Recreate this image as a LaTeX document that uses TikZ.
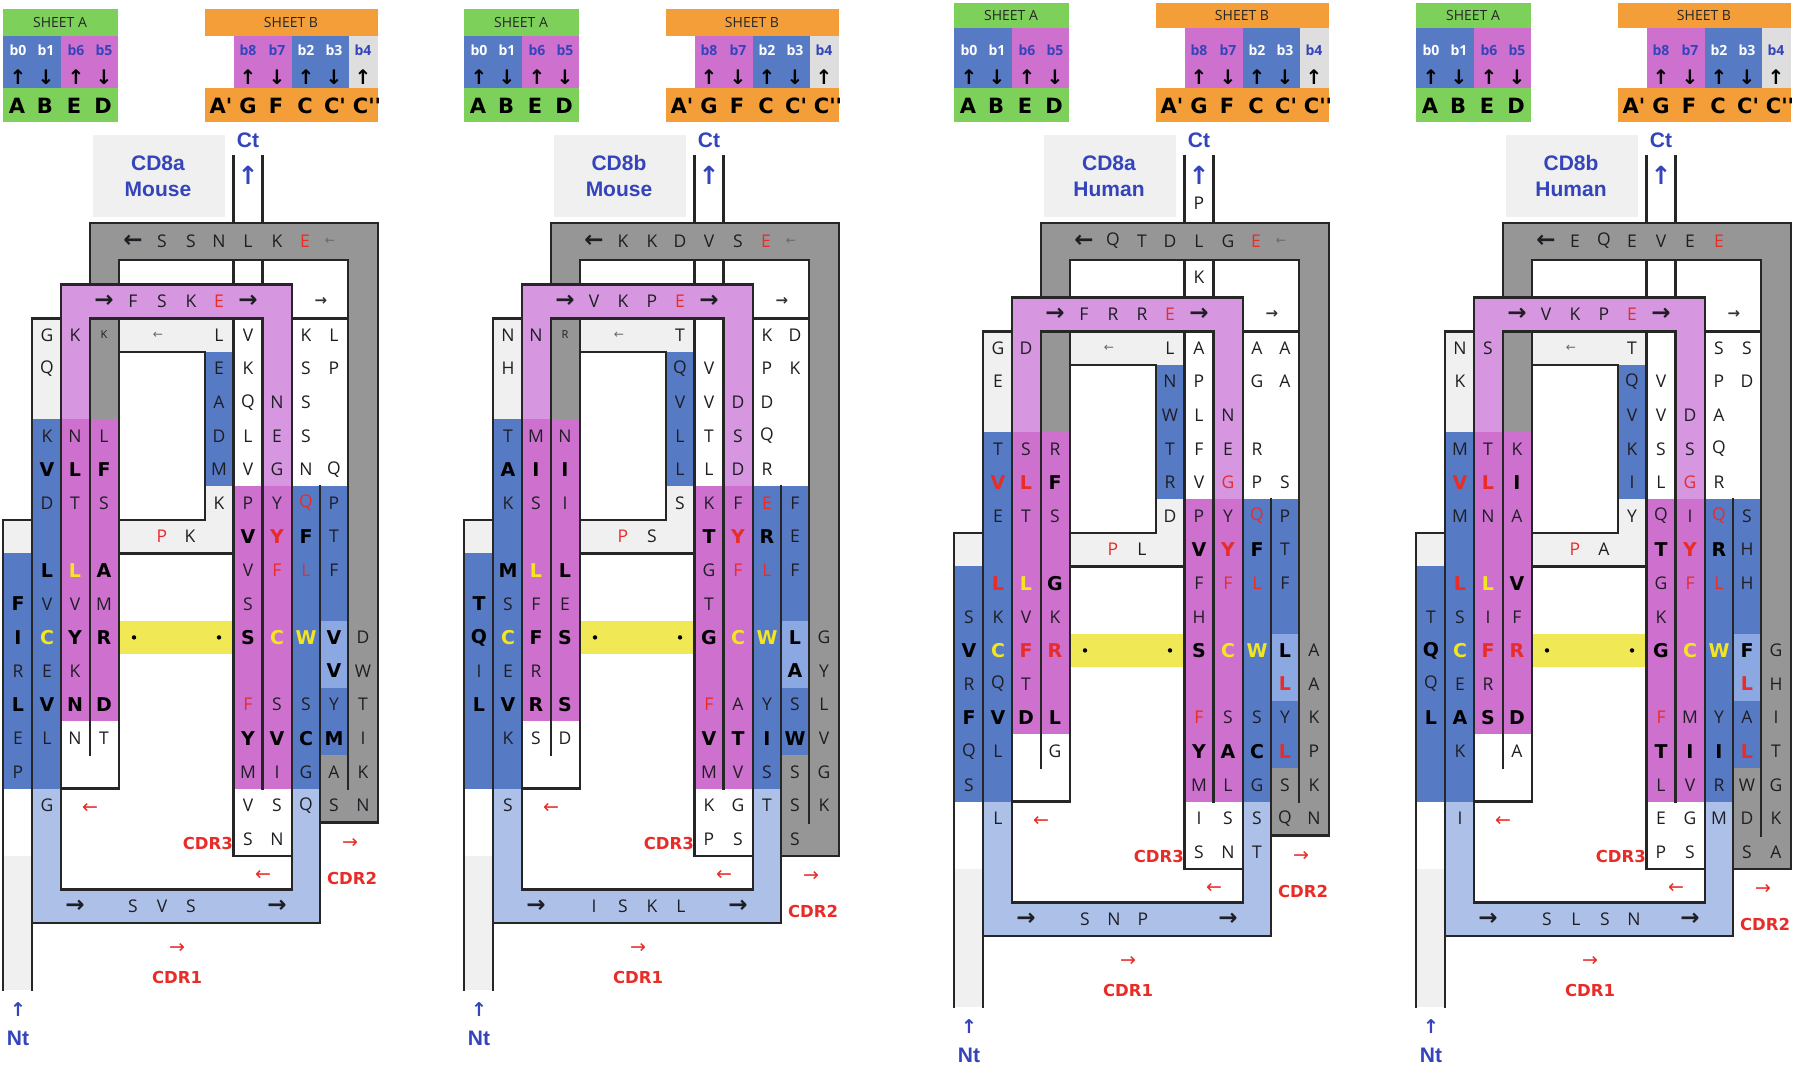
\documentclass[tikz,border=0pt]{standalone}
\usepackage{fontspec}
\setmainfont{Open Sans}
\newfontfamily\labfont{Liberation Sans}
\newfontfamily\dvs{DejaVu Sans}
\definecolor{cgreen}{RGB}{125,208,90}
\definecolor{corange}{RGB}{243,158,56}
\definecolor{cblue}{RGB}{86,122,196}
\definecolor{cmblue}{RGB}{140,168,226}
\definecolor{clblue}{RGB}{172,192,232}
\definecolor{cpink}{RGB}{206,112,206}
\definecolor{clav}{RGB}{214,150,224}
\definecolor{cgrey}{RGB}{150,150,150}
\definecolor{clgrey}{RGB}{240,240,240}
\definecolor{chgrey}{RGB}{222,222,222}
\definecolor{cyel}{RGB}{240,232,84}
\definecolor{cred}{RGB}{232,44,40}
\definecolor{cytxt}{RGB}{244,230,30}
\definecolor{cbtxt}{RGB}{52,68,186}
\definecolor{ctxt}{RGB}{30,30,36}
\tikzset{
 nm/.style={inner sep=0pt, text=ctxt, font=\fontsize{17.5}{18}\selectfont},
 bd/.style={inner sep=0pt, text=black, font=\dvs\bfseries\fontsize{19}{19}\selectfont},
 rd/.style={nm, text=cred},
 rdb/.style={bd, text=cred},
 ylb/.style={bd, text=cytxt},
 sml/.style={inner sep=0pt, text=ctxt, font=\fontsize{11}{11}\selectfont},
 ab/.style={inner sep=0pt, text=ctxt, font=\dvs\bfseries\fontsize{23}{23}\selectfont},
 as/.style={inner sep=0pt, text=black!60, font=\dvs\fontsize{12}{12}\selectfont},
 ar/.style={inner sep=0pt, text=cred, font=\dvs\fontsize{19}{19}\selectfont},
 cdr/.style={inner sep=0pt, text=cred, font=\dvs\bfseries\fontsize{16.5}{17}\selectfont},
 blab/.style={inner sep=0pt, text=cbtxt, font=\labfont\bfseries\fontsize{21}{21}\selectfont},
 bar/.style={inner sep=0pt, text=cbtxt, font=\dvs\bfseries\fontsize{25}{25}\selectfont},
 hdr/.style={inner sep=0pt, text=black!85, font=\fontsize{14}{14}\selectfont},
 bw/.style={inner sep=0pt, text=white, font=\bfseries\fontsize{14}{14}\selectfont},
 bb/.style={bw, text=cbtxt},
 harr/.style={inner sep=0pt, text=black, font=\dvs\bfseries\fontsize{20}{20}\selectfont},
 big/.style={inner sep=0pt, text=black, font=\dvs\bfseries\fontsize{21}{21}\selectfont},
 kl/.style={draw=black!85, line width=2.6pt, line cap=rect},
}
\newcommand\col[3]{\foreach \k/\s/\t in {#3}{\node[\s] (\pn#1\k) at (#2,{rowc(\k)}) {\t};}}
\newcommand\seq[3]{\foreach \x/\s/\t [count=\i] in {#3}{\node[\s] (\pn#1\i) at (\x,#2) {\t};}}
\def\bodydy{0}\def\tailext{0}\def\gb{15}\def\hT{9}\def\hB{36}
\newcommand\drawframe{%
 \fill[cgreen] (3,\hT) rectangle (118,122);
 \fill[cblue] (3,\hB) rectangle (61,88);
 \fill[cpink] (61,\hB) rectangle (118,88);
 \fill[corange] (205,\hT) rectangle (378,\hB);
 \fill[cpink] (234,\hB) rectangle (292,88);
 \fill[cblue] (292,\hB) rectangle (349,88);
 \fill[chgrey] (349,\hB) rectangle (378,88);
 \fill[corange] (205,88) rectangle (378,122);
 \node[hdr] (\pn-sa) at (60,{(\hT+\hB)/2}) {SHEET A};
 \node[hdr] (\pn-sb) at (291,{(\hT+\hB)/2}) {SHEET B};
 \foreach \x/\s/\t [count=\i] in {18/bw/b0,46/bw/b1,76/bb/b6,104/bb/b5,248/bb/b8,277/bb/b7,306/bw/b2,334/bw/b3,363/bb/b4}{\node[\s] (\pn-bl\i) at (\x,50) {\t};}
 \foreach \x/\t [count=\i] in {18/↑,46/↓,76/↑,104/↓,248/↑,277/↓,306/↑,334/↓,363/↑}{\node[harr] (\pn-ha\i) at (\x,77) {\t};}
 \foreach \x/\t [count=\i] in {17/A,45/B,74/E,103/D,221/A',248/G,276/F,305/C,335/C',367/C''}{\node[big] (\pn-hl\i) at (\x,106) {\t};}
 % fills
 \fill[clgrey] (93,135) rectangle (225,217);
 \fill[cgrey] (90,223) rectangle (378,260);
 \fill[cgrey] (348,260) rectangle (378,{rowt(\gb)});
 \fill[cgrey] (90,260) rectangle (119,{rowt(3)});
 \fill[cgrey] (320,{rowt(13)}) rectangle (348,{rowt(\gb)});
 \fill[clav] (61,{rowt(-1)}) rectangle (292,{rowt(0)});
 \fill[clav] (61,{rowt(0)}) rectangle (90,{rowt(3)});
 \fill[clav] (262,{rowt(0)}) rectangle (292,{rowt(5)});
 \fill[cpink] (61,{rowt(3)}) rectangle (119,{rowt(12)});
 \fill[cpink] (233,{rowt(5)}) rectangle (292,{rowt(14)});
 \fill[cblue] (3,{rowt(7)}) rectangle (32,{rowt(14)});
 \fill[cblue] (32,{rowt(3)}) rectangle (61,{rowt(14)});
 \fill[cblue] (205,{rowt(1)}) rectangle (233,{rowt(5)});
 \fill[cblue] (292,{rowt(5)}) rectangle (348,{rowt(13)});
 \fill[cblue] (292,{rowt(13)}) rectangle (320,{rowt(14)});
 \fill[cmblue] (320,{rowt(9)}) rectangle (348,{rowt(11)});
 \fill[clblue] (32,{rowt(14)}) rectangle (61,{rowt(18)});
 \fill[clblue] (32,{rowt(17)}) rectangle (320,{rowt(18)});
 \fill[clblue] (292,{rowt(14)}) rectangle (320,{rowt(18)});
 \fill[clgrey] (3,{rowt(6)}) rectangle (32,{rowt(7)});
 \fill[clgrey] (3,{rowt(16)}) rectangle (32,{rowt(18)+67+\tailext});
 \fill[clgrey] (32,{rowt(0)}) rectangle (61,{rowt(3)});
 \fill[clgrey] (119,{rowt(0)}) rectangle (233,{rowt(1)});
 \fill[clgrey] (205,{rowt(5)}) rectangle (233,{rowt(6)});
 \fill[clgrey] (119,{rowt(6)}) rectangle (233,{rowt(7)});
 \fill[cyel] (119,{rowt(9)}) rectangle (233,{rowt(10)});
 % lines
 \draw[kl] (233.5,156) -- (233.5,223) (262.5,156) -- (262.5,223);
 \draw[kl] (233.5,260) -- (233.5,{rowt(-1)}) (262.5,260) -- (262.5,{rowt(-1)});
 \draw[kl] (90,{rowt(-1)}) -- (90,223) -- (378,223) -- (378,{rowt(\gb)}) -- (320,{rowt(\gb)});
 \draw[kl] (119,{rowt(-1)}) -- (119,260) -- (348,260) -- (348,{rowt(\gb-1)});
 \draw[kl] (61,{rowt(-1)}) rectangle (292,{rowt(17)});
 \draw[kl] (90,{rowt(0)}) -- (262.5,{rowt(0)});
 \draw[kl] (292,{rowt(0)}) -- (348,{rowt(0)});
 \draw[kl] (90,{rowt(0)}) -- (90,{rowt(13)});
 \draw[kl] (119,{rowt(0)}) -- (119,{rowt(14)}) -- (61,{rowt(14)});
 \draw[kl] (262.5,{rowt(0)}) -- (262.5,{rowt(14)});
 \draw[kl] (233.5,{rowt(0)}) -- (233.5,{rowt(16)}) -- (292,{rowt(16)});
 \draw[kl] (119,{rowt(1)}) -- (205,{rowt(1)}) -- (205,{rowt(6)}) -- (119,{rowt(6)});
 \draw[kl] (119,{rowt(7)}) -- (233.5,{rowt(7)});
 \draw[kl] (32,{rowt(18)+67+\tailext}) -- (32,{rowt(0)}) -- (61,{rowt(0)});
 \draw[kl] (32,{rowt(18)}) -- (320,{rowt(18)}) -- (320,{rowt(5)});
 \draw[kl] (3,{rowt(18)+67+\tailext}) -- (3,{rowt(6)}) -- (32,{rowt(6)});
 % common texts
 \node[blab] (\pn-cd1) at (158,163) {\cdA};
 \node[blab] (\pn-cd2) at (158,189) {\cdB};
 \node[blab] (\pn-ct) at (248,140) {Ct};
 \node[bar] (\pn-cta) at (248,175) {↑};
 \node[bar, font=\dvs\bfseries\fontsize{19}{19}\selectfont] (\pn-nta) at (18,{rowt(18)+87+\tailext}) {↑};
 \node[blab] (\pn-nt) at (18,{rowt(18)+115+\tailext}) {Nt};
 \node[as] (\pn-ia) at (158,{rowc(0)}) {←};
 \node[as, text=black!80, font=\dvs\bfseries\fontsize{15}{15}\selectfont] (\pn-ra) at (321,{rowc(-1)}) {→};
 \fill[black] (134,{rowc(9)}) circle (2.2);
 \fill[black] (219,{rowc(9)}) circle (2.2);
 \node[ar] (\pn-r1) at (90,{rowc(14)+3}) {←};
 \node[ar] (\pn-r2) at (263,{rowc(16)+3}) {←};
 \node[cdr, anchor=east] (\pn-cdr3) at (233,{rowc(15)+4}) {CDR3};
 \node[ar] (\pn-r3) at (350,{rowt(\gb)+21}) {→};
 \node[cdr] (\pn-cdr2) at (352,{rowt(\gb)+56}) {CDR2};
 \node[ar] (\pn-r4) at (177,{rowt(18)+25}) {→};
 \node[cdr] (\pn-cdr1) at (177,{rowt(18)+54}) {CDR1};
 \node[ab] (\pn-ba1) at (75,{rowc(17)}) {→};
 \node[ab] (\pn-ba2) at (277,{rowc(17)}) {→};
 \node[ab] (\pn-pa1) at (104,{rowc(-1)}) {→};
 \node[ab] (\pn-pa2) at (248,{rowc(-1)}) {→};
 \node[ab] (\pn-ga) at (133,241) {←};
}
\begin{document}
\begin{tikzpicture}[x=1pt,y=-1pt,declare function={rowt(\k)=318.2+33.6*\k+\bodydy;rowc(\k)=335+33.6*\k+\bodydy;}]
\useasboundingbox (0,0) rectangle (1800,1069);
\fill[white] (0,0) rectangle (1800,1069);
% ---------- Panel 1: CD8a Mouse
\begin{scope}[xshift=0pt]
\def\pn{pa}\def\bodydy{0}\def\tailext{0}\def\gb{15}\def\hT{9}\def\hB{36}\def\cdA{CD8a}\def\cdB{Mouse}
\drawframe
\seq{g}{241}{162/nm/S,191/nm/S,219/nm/N,248/nm/L,277/nm/K,305/rd/E,330/as/←}
\seq{p}{{rowc(-1)}}{133/nm/F,162/nm/S,191/nm/K,219/rd/E}
\seq{b}{{rowc(17)}}{133/nm/S,162/nm/V,191/nm/S}
\seq{i}{{rowc(6)}}{162/rd/P,190/nm/K}
\col{A}{18}{8/bd/F,9/bd/I,10/nm/R,11/bd/L,12/nm/E,13/nm/P}
\col{B}{47}{0/nm/G,1/nm/Q,3/nm/K,4/bd/V,5/nm/D,7/bd/L,8/nm/V,9/ylb/C,10/nm/E,11/bd/V,12/nm/L,14/nm/G}
\col{E}{75}{0/nm/K,3/nm/N,4/bd/L,5/nm/T,7/ylb/L,8/nm/V,9/bd/Y,10/nm/K,11/bd/N,12/nm/N}
\col{D}{104}{0/sml/K,3/nm/L,4/bd/F,5/nm/S,7/bd/A,8/nm/M,9/bd/R,11/bd/D,12/nm/T}
\col{I}{219}{0/nm/L,1/nm/E,2/nm/A,3/nm/D,4/nm/M,5/nm/K}
\col{G}{248}{0/nm/V,1/nm/K,2/nm/Q,3/nm/L,4/nm/V,5/nm/P,6/bd/V,7/nm/V,8/nm/S,9/bd/S,11/rd/F,12/bd/Y,13/nm/M,14/nm/V,15/nm/S}
\col{F}{277}{2/nm/N,3/nm/E,4/nm/G,5/nm/Y,6/rdb/Y,7/rd/F,9/ylb/C,11/nm/S,12/bd/V,13/nm/I,14/nm/S,15/nm/N}
\col{C}{306}{0/nm/K,1/nm/S,2/nm/S,3/nm/S,4/nm/N,5/rd/Q,6/bd/F,7/rd/L,9/ylb/W,11/nm/S,12/bd/C,13/nm/G,14/nm/Q}
\col{Q}{334}{0/nm/L,1/nm/P,4/nm/Q,5/nm/P,6/nm/T,7/nm/F,9/bd/V,10/bd/V,11/nm/Y,12/bd/M,13/nm/A,14/nm/S}
\col{X}{363}{9/nm/D,10/nm/W,11/nm/T,12/nm/I,13/nm/K,14/nm/N}
\end{scope}
% ---------- Panel 2: CD8b Mouse
\begin{scope}[xshift=461pt]
\def\pn{pb}\def\bodydy{0}\def\tailext{0}\def\gb{16}\def\hT{9}\def\hB{36}\def\cdA{CD8b}\def\cdB{Mouse}
\drawframe
\seq{g}{241}{162/nm/K,191/nm/K,219/nm/D,248/nm/V,277/nm/S,305/rd/E,330/as/←}
\seq{p}{{rowc(-1)}}{133/nm/V,162/nm/K,191/nm/P,219/rd/E}
\seq{b}{{rowc(17)}}{133/nm/I,162/nm/S,191/nm/K,220/nm/L}
\seq{i}{{rowc(6)}}{162/rd/P,191/nm/S}
\col{A}{18}{8/bd/T,9/bd/Q,10/nm/I,11/bd/L}
\col{B}{47}{0/nm/N,1/nm/H,3/nm/T,4/bd/A,5/nm/K,7/bd/M,8/nm/S,9/ylb/C,10/nm/E,11/bd/V,12/nm/K,14/nm/S}
\col{E}{75}{0/nm/N,3/nm/M,4/bd/I,5/nm/S,7/ylb/L,8/nm/F,9/bd/F,10/nm/R,11/bd/R,12/nm/S}
\col{D}{104}{0/sml/R,3/nm/N,4/bd/I,5/nm/I,7/bd/L,8/nm/E,9/bd/S,11/bd/S,12/nm/D}
\col{I}{219}{0/nm/T,1/nm/Q,2/nm/V,3/nm/L,4/nm/L,5/nm/S}
\col{G}{248}{1/nm/V,2/nm/V,3/nm/T,4/nm/L,5/nm/K,6/bd/T,7/nm/G,8/nm/T,9/bd/G,11/rd/F,12/bd/V,13/nm/M,14/nm/K,15/nm/P}
\col{F}{277}{2/nm/D,3/nm/S,4/nm/D,5/nm/F,6/rdb/Y,7/rd/F,9/ylb/C,11/nm/A,12/bd/T,13/nm/V,14/nm/G,15/nm/S}
\col{C}{306}{0/nm/K,1/nm/P,2/nm/D,3/nm/Q,4/nm/R,5/rd/E,6/bd/R,7/rd/L,9/ylb/W,11/nm/Y,12/bd/I,13/nm/S,14/nm/T}
\col{Q}{334}{0/nm/D,1/nm/K,5/nm/F,6/nm/E,7/nm/F,9/bd/L,10/bd/A,11/nm/S,12/bd/W,13/nm/S,14/nm/S,15/nm/S}
\col{X}{363}{9/nm/G,10/nm/Y,11/nm/L,12/nm/V,13/nm/G,14/nm/K}
\end{scope}
% ---------- Panel 3: CD8a Human
\begin{scope}[xshift=951pt]
\def\pn{pc}\def\bodydy{13}\def\tailext{4}\def\gb{15}\def\hT{3}\def\hB{28}\def\cdA{CD8a}\def\cdB{Human}
\drawframe
\node[nm] (pc-P) at (248,203) {P};
\node[nm] (pc-K) at (248,277) {K};
\seq{g}{241}{162/nm/Q,191/nm/T,219/nm/D,248/nm/L,277/nm/G,305/rd/E,330/as/←}
\seq{p}{{rowc(-1)}}{133/nm/F,162/nm/R,191/nm/R,219/rd/E}
\seq{b}{{rowc(17)}}{134/nm/S,163/nm/N,192/nm/P}
\seq{i}{{rowc(6)}}{162/rd/P,191/nm/L}
\col{A}{18}{8/nm/S,9/bd/V,10/nm/R,11/bd/F,12/nm/Q,13/nm/S}
\col{B}{47}{0/nm/G,1/nm/E,3/nm/T,4/rdb/V,5/nm/E,7/rdb/L,8/nm/K,9/ylb/C,10/nm/Q,11/bd/V,12/nm/L,14/nm/L}
\col{E}{75}{0/nm/D,3/nm/S,4/rdb/L,5/nm/T,7/ylb/L,8/nm/V,9/rdb/F,10/nm/T,11/bd/D}
\col{D}{104}{3/nm/R,4/bd/F,5/nm/S,7/bd/G,8/nm/K,9/rdb/R,11/bd/L,12/nm/G}
\col{I}{219}{0/nm/L,1/nm/N,2/nm/W,3/nm/T,4/nm/R,5/nm/D}
\col{G}{248}{0/nm/A,1/nm/P,2/nm/L,3/nm/F,4/nm/V,5/nm/P,6/bd/V,7/nm/F,8/nm/H,9/bd/S,11/rd/F,12/bd/Y,13/nm/M,14/nm/I,15/nm/S}
\col{F}{277}{2/nm/N,3/nm/E,4/rd/G,5/nm/Y,6/rdb/Y,7/rd/F,9/ylb/C,11/nm/S,12/bd/A,13/nm/L,14/nm/S,15/nm/N}
\col{C}{306}{0/nm/A,1/nm/G,3/nm/R,4/nm/P,5/rd/Q,6/bd/F,7/rd/L,9/ylb/W,11/nm/S,12/bd/C,13/nm/G,14/nm/S,15/nm/T}
\col{Q}{334}{0/nm/A,1/nm/A,4/nm/S,5/nm/P,6/nm/T,7/nm/F,9/bd/L,10/rdb/L,11/nm/Y,12/rdb/L,13/nm/S,14/nm/Q}
\col{X}{363}{9/nm/A,10/nm/A,11/nm/K,12/nm/P,13/nm/K,14/nm/N}
\end{scope}
% ---------- Panel 4: CD8b Human
\begin{scope}[xshift=1413pt]
\def\pn{pd}\def\bodydy{13}\def\tailext{4}\def\gb{16}\def\hT{3}\def\hB{28}\def\cdA{CD8b}\def\cdB{Human}
\drawframe
\seq{g}{241}{162/nm/E,191/nm/Q,219/nm/E,248/nm/V,277/nm/E,306/rd/E}
\seq{p}{{rowc(-1)}}{133/nm/V,162/nm/K,191/nm/P,219/rd/E}
\seq{b}{{rowc(17)}}{134/nm/S,163/nm/L,192/nm/S,221/nm/N}
\seq{i}{{rowc(6)}}{162/rd/P,191/nm/A}
\col{A}{18}{8/nm/T,9/bd/Q,10/nm/Q,11/bd/L}
\col{B}{47}{0/nm/N,1/nm/K,3/nm/M,4/rdb/V,5/nm/M,7/rdb/L,8/nm/S,9/ylb/C,10/nm/E,11/bd/A,12/nm/K,14/nm/I}
\col{E}{75}{0/nm/S,3/nm/T,4/rdb/L,5/nm/N,7/ylb/L,8/nm/I,9/rdb/F,10/nm/R,11/bd/S}
\col{D}{104}{3/nm/K,4/bd/I,5/nm/A,7/bd/V,8/nm/F,9/rdb/R,11/bd/D,12/nm/A}
\col{I}{219}{0/nm/T,1/nm/Q,2/nm/V,3/nm/K,4/nm/I,5/nm/Y}
\col{G}{248}{1/nm/V,2/nm/V,3/nm/S,4/nm/L,5/nm/Q,6/bd/T,7/nm/G,8/nm/K,9/bd/G,11/rd/F,12/bd/T,13/nm/L,14/nm/E,15/nm/P}
\col{F}{277}{2/nm/D,3/nm/S,4/rd/G,5/nm/I,6/rdb/Y,7/rd/F,9/ylb/C,11/nm/M,12/bd/I,13/nm/V,14/nm/G,15/nm/S}
\col{C}{306}{0/nm/S,1/nm/P,2/nm/A,3/nm/Q,4/nm/R,5/rd/Q,6/bd/R,7/rd/L,9/ylb/W,11/nm/Y,12/bd/I,13/nm/R,14/nm/M}
\col{Q}{334}{0/nm/S,1/nm/D,5/nm/S,6/nm/H,7/nm/H,9/bd/F,10/rdb/L,11/nm/A,12/rdb/L,13/nm/W,14/nm/D,15/nm/S}
\col{X}{363}{9/nm/G,10/nm/H,11/nm/I,12/nm/T,13/nm/G,14/nm/K,15/nm/A}
\end{scope}
\end{tikzpicture}
\end{document}
